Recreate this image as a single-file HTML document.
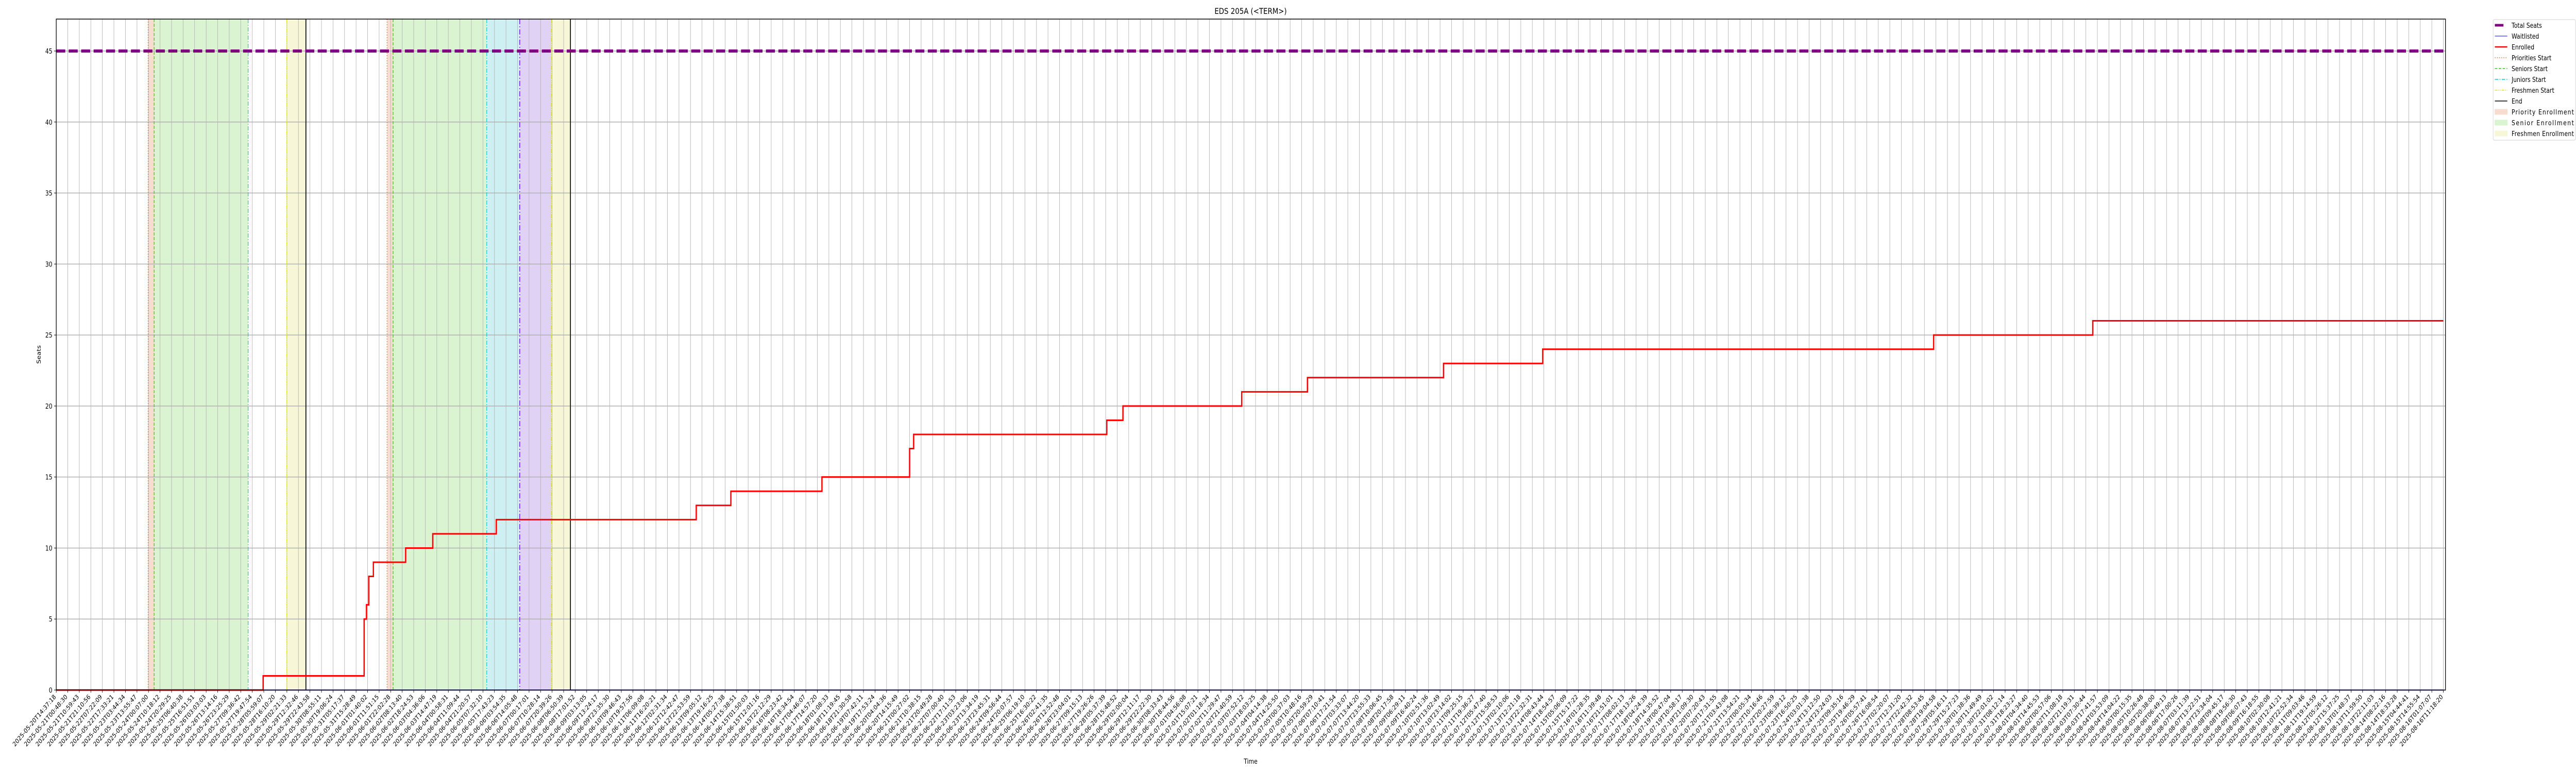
<!DOCTYPE html>
<html><head><meta charset="utf-8"><style>
html,body{margin:0;padding:0;background:#fff;width:100%;height:100%;overflow:hidden;}
svg{display:block;width:100vw;height:100vh;font-family:"DejaVu Sans","Liberation Sans",sans-serif;}
</style></head><body>
<svg id="chart" viewBox="0 0 6000 1500" preserveAspectRatio="none" xmlns="http://www.w3.org/2000/svg">
<rect width="6000" height="1500" fill="#fff"/>
<g id="bands"></g>
<g id="grid"></g>
<g id="vlines"></g>
<g id="series"></g>
<rect x="131" y="37" width="5565" height="1302" fill="none" stroke="#000" stroke-width="1.5"/>
<g id="xticks"></g>
<g id="yticks"></g>
<text x="2913" y="27" font-size="16" text-anchor="middle">EDS 205A (&lt;TERM&gt;)</text>
<text x="95" y="688" font-size="13" text-anchor="middle" transform="rotate(-90 95 688)">Seats</text>
<text x="2913" y="1482" font-size="13" text-anchor="middle">Time</text>
<g id="legend"></g>
</svg>
<script>
// ---- data ----
const tickCount = 208;
const tickStart = "2025-05-20T14:37:18";
const tickEnd = "2025-08-16T11:18:20";
const yTicks = [0,5,10,15,20,25,30,35,40,45];
const totalSeats = 45;
// enrolled steps: [x position in sample-index units, value]
const enrolledIdx = [0,17.94,26.5,26.7,26.8,26.9,27.0,27.1,27.3,27.5,30.3,32.65,38.16,55.5,58.5,66.4,74.0,74.35,91.1,92.5,102.8,108.5,120.3,128.9,162.8,176.6,207];
const enrolledVal = [0,1,1,5,5,6,6,8,8,9,10,11,12,13,14,15,17,18,19,20,21,22,23,24,25,26,26];
const waitIdx = [0,207];
const waitVal = [0,0];
// phase event positions (sample-index units)
const prioStart = [7.97,28.69];
const seniorStart = [8.49,29.21];
const juniorStart = [16.64,37.33];
const sophStart = [40.19];
const freshStart = [19.99,42.94];
const endPos = [21.65,44.59];

// ---- scales ----
const X0=131, X1=5696, Y0=1339, YMAX=47.25;
const step=(5691-131)/(tickCount-1);
function xs(i){return X0+i*step;}
function ys(v){return Y0-v*(Y0-37)/YMAX;}
const NS="http://www.w3.org/2000/svg";
function mk(tag,attrs,parent){const e=document.createElementNS(NS,tag);for(const k in attrs)e.setAttribute(k,attrs[k]);parent.appendChild(e);return e;}
const bands=document.getElementById('bands'),grid=document.getElementById('grid'),vl=document.getElementById('vlines'),ser=document.getElementById('series'),xt=document.getElementById('xticks'),yt=document.getElementById('yticks'),lg=document.getElementById('legend');

// bands
function band(a,b,color,name){const r=mk('rect',{x:xs(a),y:37,width:xs(b)-xs(a),height:Y0-37,fill:color},bands);

}
band(prioStart[0],seniorStart[0],'#f7ddd0','priority-band-1');
band(seniorStart[0],juniorStart[0],'#daf4d2','senior-band-1');
band(freshStart[0],endPos[0],'#f7f7d7','freshmen-band-1');
band(prioStart[1],seniorStart[1],'#f7ddd0','priority-band-2');
band(seniorStart[1],juniorStart[1],'#daf4d2','senior-band-2');
band(juniorStart[1],sophStart[0],'#cff0f2','junior-band-2');
band(sophStart[0],freshStart[1],'#e0d2f4','sophomore-band-2');
band(freshStart[1],endPos[1],'#f7f7d7','freshmen-band-2');

// grid + x ticks
const t0=Date.parse(tickStart+"Z"),t1=Date.parse(tickEnd+"Z");
const tickLabels=[];
for(let i=0;i<tickCount;i++){tickLabels.push(new Date(t0+(t1-t0)*i/(tickCount-1)).toISOString().slice(0,19));}
tickLabels.forEach((lab,i)=>{
  const x=xs(i);
  const g=mk('line',{x1:x,x2:x,y1:37,y2:Y0,stroke:'#b0b0b0','stroke-width':1},grid);
  
  
  mk('line',{x1:x,x2:x,y1:Y0,y2:Y0+5,stroke:'#000','stroke-width':1},xt);
  const t=mk('text',{x:x,y:Y0+14,'font-size':12.5,'text-anchor':'end',transform:`rotate(-45 ${x} ${Y0+14})`},xt);
  
  
  t.textContent=lab;
});
yTicks.forEach(v=>{
  const y=ys(v);
  const g=mk('line',{x1:X0,x2:X1,y1:y,y2:y,stroke:'#b0b0b0','stroke-width':1.5},grid);
  
  
  mk('line',{x1:X0-5,x2:X0,y1:y,y2:y,stroke:'#000','stroke-width':1},yt);
  const t=mk('text',{x:X0-9,y:y+5,'font-size':13,'text-anchor':'end'},yt);
  
  
  t.textContent=v;
});

// vertical phase lines
function vline(pos,color,dash,w,name){const l=mk('line',{x1:xs(pos),x2:xs(pos),y1:37,y2:Y0,stroke:color,'stroke-width':w,'stroke-dasharray':dash},vl);

}
prioStart.forEach(p=>vline(p,'#f07040','2 3',1.5,'priorities-start-line'));
seniorStart.forEach(p=>vline(p,'#33cc11','6 3',1.5,'seniors-start-line'));
juniorStart.forEach(p=>vline(p,'#11c8d8','8 3 2 3',1.5,'juniors-start-line'));
sophStart.forEach(p=>vline(p,'#7a2ee0','10 4 2 4',2,'sophomores-start-line'));
freshStart.forEach(p=>vline(p,'#e0e030','8 2 2 2 2 2',1.5,'freshmen-start-line'));
endPos.forEach(p=>vline(p,'#000','',2,'end-line'));

// series
function stepPath(idx,val){let d=`M${xs(idx[0])},${ys(val[0])}`;for(let i=1;i<idx.length;i++){d+=`L${xs(idx[i])},${ys(val[i-1])}L${xs(idx[i])},${ys(val[i])}`;}return d;}
const ts=mk('line',{x1:X0,x2:X1,y1:ys(totalSeats),y2:ys(totalSeats),stroke:'#800080','stroke-width':6,'stroke-dasharray':'21 8'},ser);


const wl=mk('path',{d:stepPath(waitIdx,waitVal),stroke:'#3333ff','stroke-width':2,fill:'none'},ser);


const en=mk('path',{d:stepPath(enrolledIdx,enrolledVal),stroke:'#ff0000','stroke-width':3,fill:'none'},ser);



// legend
const lgBox=mk('rect',{x:5807,y:38,width:192,height:234,rx:3,fill:'#fff',stroke:'#d0d0d0','stroke-width':1},lg);


const legendNames=['Total Seats','Waitlisted','Enrolled','Priorities Start','Seniors Start','Juniors Start','Freshmen Start','End','Priority Enrollment','Senior Enrollment','Freshmen Enrollment'];
const legendStyles=[['#800080','20 0',5,'l'],['#3333ff','',1.2,'l'],['#ff0000','',2.5,'l'],['#f07040','2 3',1.5,'l'],['#33cc11','6 3',1.5,'l'],['#11c8d8','8 3 2 3',1.5,'l'],['#e0e030','6 2 2 2 2 2',1.5,'l'],['#000','',1.5,'l'],['#f7ddd0','',0,'r'],['#daf4d2','',0,'r'],['#f7f7d7','',0,'r']];
legendNames.forEach((n,i)=>{
  const y=49+i*21;const s=legendStyles[i];
  if(s[3]==='l'){mk('line',{x1:5811,x2:i===0?5831:5840,y1:y,y2:y,stroke:s[0],'stroke-width':s[2],'stroke-dasharray':s[1]},lg);}
  else{mk('rect',{x:5811,y:y-5,width:29,height:10,fill:s[0],stroke:s[0]},lg);}
  const t=mk('text',{x:5850,y:y+5,'font-size':13,textLength:n.length>16?145:null},lg);
  if(n.length<=16)t.removeAttribute('textLength');
  
  
  t.textContent=n;
});
</script>
</body></html>
